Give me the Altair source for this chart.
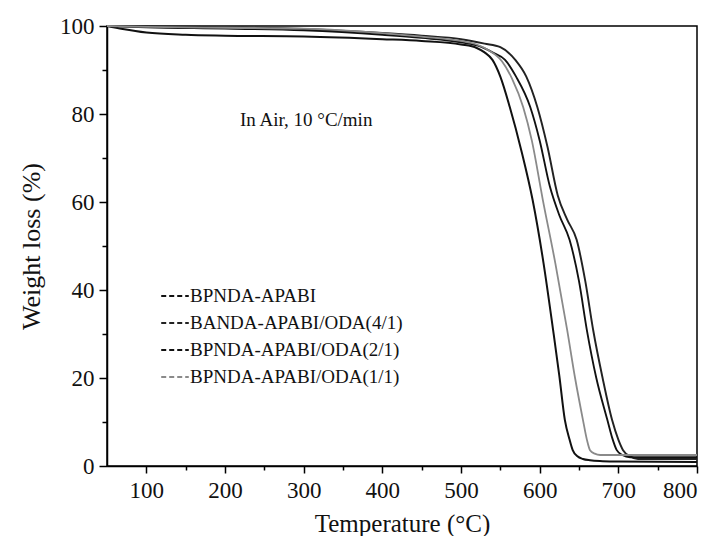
import altair as alt
import pandas as pd

names = ["BPNDA-APABI", "BANDA-APABI/ODA(4/1)", "BPNDA-APABI/ODA(2/1)", "BPNDA-APABI/ODA(1/1)"]

t_a = [50, 70, 100, 150, 200, 300, 400, 450, 500, 520, 530, 540, 550, 562, 577, 591, 605, 617, 625, 632, 638, 642, 648, 655, 664, 680, 700, 800]
w_a = [100, 99.3, 98.5, 98.0, 97.8, 97.6, 97.0, 96.6, 95.8, 95.0, 94.0, 92.3, 88.5, 81.6, 71.5, 60.5, 46.0, 31.0, 20.5, 10.5, 6.0, 3.6, 2.2, 1.6, 1.3, 1.1, 1.0, 0.9]

t_d = [50, 100, 200, 300, 400, 450, 500, 530, 550, 569, 583, 597, 610, 623, 635, 647, 658, 668, 680, 692, 700, 706, 715, 725, 800]
w_d = [100, 99.9, 99.7, 99.3, 98.4, 97.8, 97.0, 96.0, 95.2, 92.3, 88.5, 81.6, 72.5, 61.5, 56.0, 51.4, 42.0, 30.9, 20.0, 10.5, 6.0, 3.6, 2.2, 1.6, 1.6]

t_c = [50, 100, 200, 300, 400, 450, 500, 525, 540, 556, 570, 588, 600, 613, 625, 638, 650, 660, 672, 686, 692, 698, 705, 715, 800]
w_c = [100, 99.7, 99.4, 99.0, 98.0, 97.3, 96.3, 95.3, 94.0, 92.3, 88.5, 81.6, 74.0, 63.5, 57.0, 51.4, 42.0, 30.9, 20.0, 10.5, 6.5, 3.6, 2.5, 2.0, 2.0]

t_b = [50, 100, 200, 300, 350, 400, 450, 500, 520, 535, 552, 565, 579, 590, 604, 620, 635, 645, 655, 660, 664, 670, 677, 700, 800]
w_b = [100, 99.8, 99.6, 99.4, 99.0, 98.4, 97.6, 96.6, 95.8, 94.5, 92.0, 88.0, 81.6, 74.0, 60.5, 46.0, 30.9, 20.0, 10.5, 6.0, 3.6, 2.8, 2.5, 2.5, 2.5]

colors = ["#111111", "#222222", "#111111", "#8a8a8a"]
widths = [2.0, 1.8, 2.0, 1.4]

x_ticks = [100, 150, 200, 250, 300, 350, 400, 450, 500, 550, 600, 650, 700, 750, 800]
y_ticks = [0, 10, 20, 30, 40, 50, 60, 70, 80, 90, 100]

note_text = ["In Air, 10 °C/min"]
note_x = [219]
note_y = [78.6]

rows = []
for name, ts, ws in zip(names, [t_a, t_d, t_c, t_b], [w_a, w_d, w_c, w_b]):
    for t, w in zip(ts, ws):
        rows.append({"T": t, "W": w, "series": name})
df = pd.DataFrame(rows)

note_df = pd.DataFrame({"x": note_x, "y": note_y, "text": note_text})

FONT = "Liberation Serif"
xscale = alt.Scale(domain=[50, 800], nice=False, zero=False)
yscale = alt.Scale(domain=[0, 100], nice=False)

lines = alt.Chart(df).mark_line(interpolate="monotone").encode(
    x=alt.X("T:Q", scale=xscale, axis=alt.Axis(
        values=x_ticks, title="Temperature (°C)", orient="bottom", grid=False,
        labelExpr="datum.value % 100 === 0 ? datum.label : ''",
        tickSize={"condition": {"test": "datum.value % 100 === 0", "value": 7}, "value": 4},
        labelPadding=6, titlePadding=9, titleFontSize=25, format="d")),
    y=alt.Y("W:Q", scale=yscale, axis=alt.Axis(
        values=y_ticks, title="Weight loss (%)", orient="left", grid=False,
        labelExpr="datum.value % 20 === 0 ? datum.label : ''",
        tickSize={"condition": {"test": "datum.value % 20 === 0", "value": 8}, "value": 5},
        labelPadding=5, titlePadding=15, titleFontSize=26)),
    color=alt.Color("series:N", scale=alt.Scale(domain=names, range=colors),
                    legend=alt.Legend(title=None, orient="none", legendX=53, legendY=255,
                                      symbolType="stroke", symbolSize=760, symbolStrokeWidth=1.5,
                                      symbolDash=[5, 3], labelFont=FONT, labelFontSize=19,
                                      labelColor="#111", rowPadding=2, labelOffset=0,
                                      labelLimit=400)),
    strokeWidth=alt.StrokeWidth("series:N", scale=alt.Scale(domain=names, range=widths), legend=None),
    detail="series:N",
)

note = alt.Chart(note_df).mark_text(align="left", baseline="middle", font=FONT,
                                     fontSize=19, color="#111").encode(
    x=alt.X("x:Q", scale=xscale),
    y=alt.Y("y:Q", scale=yscale),
    text="text:N",
)

chart = alt.layer(lines, note).properties(
    width=590, height=440,
    autosize=alt.AutoSizeParams(type="none"),
    padding={"left": 99, "top": 18, "right": 12, "bottom": 70},
).configure_view(stroke="black", strokeWidth=1.5).configure_axis(
    labelFont=FONT, labelFontSize=23, labelColor="#111",
    titleFont=FONT, titleFontWeight="normal", titleColor="#111",
    domainColor="black", domainWidth=1.5, tickColor="black", tickWidth=1.5,
)

chart.save("out.html", embed_options={"renderer": "svg", "actions": False})
